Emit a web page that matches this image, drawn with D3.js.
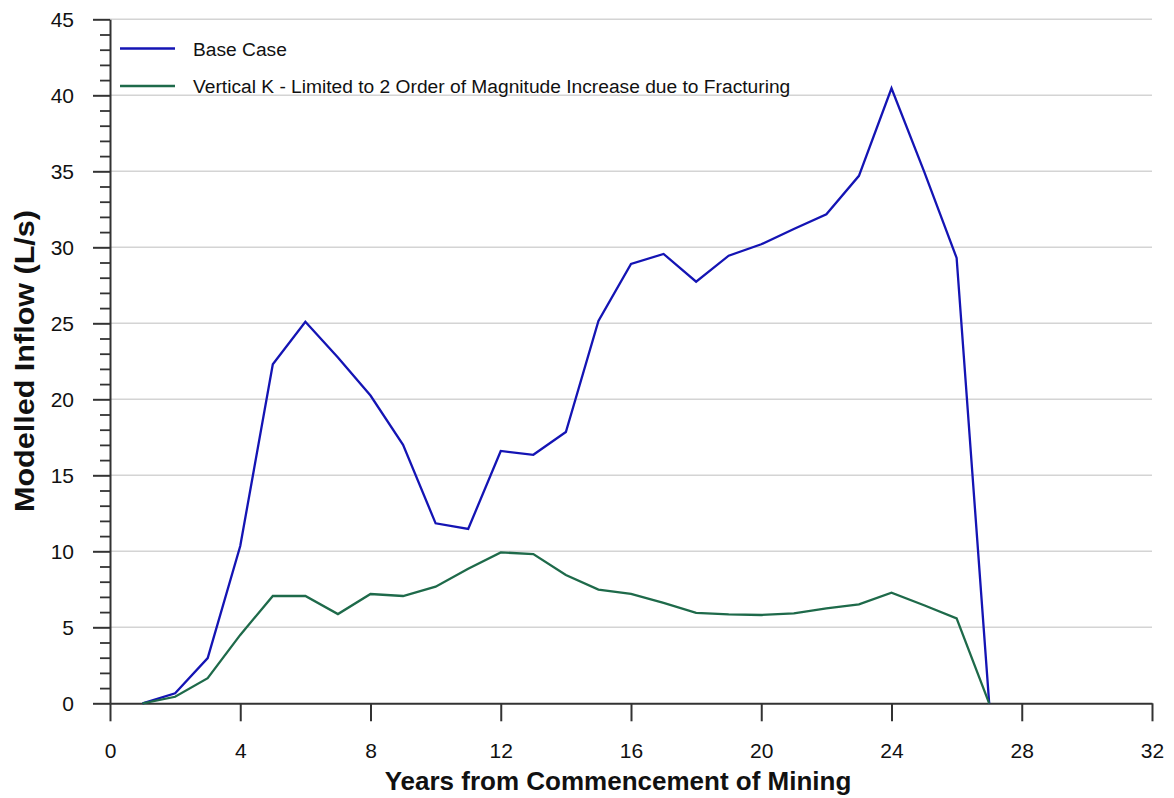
<!DOCTYPE html>
<html>
<head>
<meta charset="utf-8">
<script src="https://cdn.jsdelivr.net/npm/d3@7"></script>
<style>
  html, body { margin: 0; padding: 0; background: #fff; }
  svg { display: block; }
  text { font-family: "Liberation Sans", Arial, sans-serif; fill: #111; }
</style>
</head>
<body>
<svg id="chart" width="1174" height="798"></svg>
<script>
const years = [1,2,3,4,5,6,7,8,9,10,11,12,13,14,15,16,17,18,19,20,21,22,23,24,25,26,27];
const baseCase = [0,0.66,2.97,10.35,22.3,25.1,22.75,20.25,17.0,11.84,11.47,16.6,16.35,17.85,25.15,28.9,29.56,27.74,29.45,30.2,31.2,32.17,34.7,40.46,35.0,29.3,0];
const verticalK = [0,0.43,1.65,4.5,7.06,7.06,5.87,7.19,7.06,7.67,8.85,9.93,9.82,8.44,7.48,7.2,6.6,5.95,5.85,5.81,5.92,6.25,6.51,7.28,6.45,5.59,0];
const seriesNames = ["Base Case", "Vertical K - Limited to 2 Order of Magnitude Increase due to Fracturing"];
const seriesColors = ["#1414b4", "#1e6a4a"];
const yTicks = [0,5,10,15,20,25,30,35,40,45];
const yMinorTicks = d3.range(0, 46, 1);
const xTicks = [0,4,8,12,16,20,24,28,32];
const xTitle = "Years from Commencement of Mining";
const yTitle = "Modelled Inflow (L/s)";

const svg = d3.select("#chart");
const mLeft = 110, mRight = 1152, mTop = 19.3, mBottom = 703.3;
const x = d3.scaleLinear().domain([0, 32]).range([mLeft, mRight]);
const y = d3.scaleLinear().domain([0, 45]).range([mBottom, mTop]);

// gridlines
svg.append("g").selectAll("line").data(yTicks.filter(d => d > 0)).join("line")
  .attr("x1", mLeft).attr("x2", mRight)
  .attr("y1", d => y(d)).attr("y2", d => y(d))
  .attr("stroke", "#d4d4d4").attr("stroke-width", 1.5);

// minor y ticks
const yMinor = svg.append("g").attr("transform", `translate(${mLeft},0)`)
  .call(d3.axisLeft(y).tickValues(yMinorTicks.filter(d => d % 5 !== 0)).tickSize(10).tickFormat(""));
yMinor.select(".domain").remove();
yMinor.selectAll("line").attr("stroke", "#333").attr("stroke-width", 1.8);

// major y ticks
const yAxis = svg.append("g").attr("transform", `translate(${mLeft},0)`)
  .call(d3.axisLeft(y).tickValues(yTicks).tickSize(17).tickSizeOuter(0).tickPadding(19));
yAxis.select(".domain").attr("stroke", "#333").attr("stroke-width", 2);
yAxis.selectAll("line").attr("stroke", "#333").attr("stroke-width", 2);
yAxis.selectAll("text").attr("font-size", 21).attr("font-family", "Liberation Sans, Arial, sans-serif").attr("fill", "#111");

// x axis
const xAxis = svg.append("g").attr("transform", `translate(0,${mBottom})`)
  .call(d3.axisBottom(x).tickValues(xTicks).tickSize(18).tickSizeOuter(0).tickPadding(22));
xAxis.select(".domain").attr("stroke", "#333").attr("stroke-width", 2);
xAxis.selectAll("line").attr("stroke", "#333").attr("stroke-width", 2);
xAxis.selectAll("text").attr("font-size", 21).attr("font-family", "Liberation Sans, Arial, sans-serif").attr("fill", "#111");

// lines
const line = d3.line().x((d, i) => x(years[i])).y(d => y(d));
[baseCase, verticalK].forEach((s, i) => {
  svg.append("path").datum(s)
    .attr("fill", "none").attr("stroke", seriesColors[i])
    .attr("stroke-width", 2.3).attr("stroke-linejoin", "miter")
    .attr("d", line);
});

// legend
const legend = svg.append("g");
seriesNames.forEach((n, i) => {
  const ly = 48.5 + i * 37.5;
  legend.append("line").attr("x1", 120).attr("x2", 175).attr("y1", ly).attr("y2", ly)
    .attr("stroke", seriesColors[i]).attr("stroke-width", 2.3);
  legend.append("text").attr("x", 193).attr("y", ly + 7).attr("font-size", 19.2).text(n);
});

// titles
svg.append("text").attr("x", 618).attr("y", 790).attr("text-anchor", "middle")
  .attr("font-size", 26).attr("font-weight", "bold").text(xTitle);
svg.append("text").attr("transform", `translate(34,361) rotate(-90)`)
  .attr("text-anchor", "middle").attr("font-size", 28).attr("font-weight", "bold")
  .attr("textLength", 302).attr("lengthAdjust", "spacingAndGlyphs").text(yTitle);
</script>
</body>
</html>
